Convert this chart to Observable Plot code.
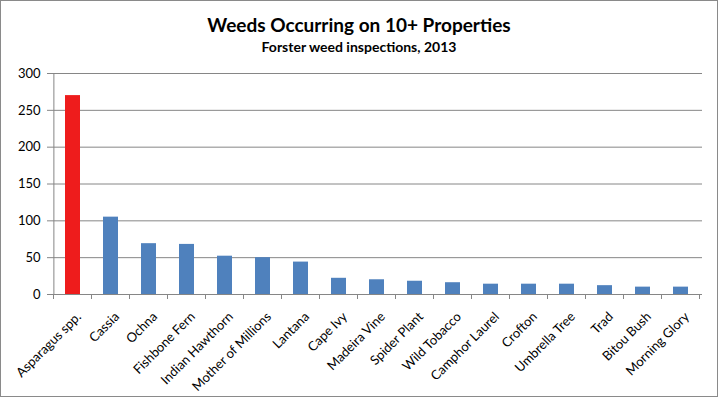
<!DOCTYPE html>
<html>
<head>
<meta charset="utf-8">
<script src="https://cdn.jsdelivr.net/npm/d3@7"></script>
<script src="https://cdn.jsdelivr.net/npm/@observablehq/plot@0.6"></script>
<style>
  html, body { margin: 0; padding: 0; background: #fff; }
  #wrap { width: 718px; height: 397px; box-sizing: border-box; border: 1px solid #8a8a8a; overflow: hidden; font-family: Lato, "Open Sans", sans-serif; }
  #title { height: 62px; text-align: center; color: #000; }
  #title .t { font-weight: bold; font-size: 19px; padding-top: 13px; line-height: 22px; }
  #title .s { font-weight: bold; font-size: 14px; line-height: 18px; margin-top: 2px; }
</style>
</head>
<body>
<div id="wrap">
  <div id="title">
    <div class="t">Weeds Occurring on 10+ Properties</div>
    <div class="s">Forster weed inspections, 2013</div>
  </div>
  <div id="chart"></div>
</div>
<script>
const weeds = ["Asparagus spp.", "Cassia", "Ochna", "Fishbone Fern", "Indian Hawthorn", "Mother of Millions", "Lantana", "Cape Ivy", "Madeira Vine", "Spider Plant", "Wild Tobacco", "Camphor Laurel", "Crofton", "Umbrella Tree", "Trad", "Bitou Bush", "Morning Glory"];
const counts = [270, 105, 69, 68, 52, 50, 44, 22, 20, 18, 16, 14, 14, 14, 12, 10, 10];
const highlighted = ["Asparagus spp."];
const yTicks = [0, 50, 100, 150, 200, 250, 300];

const data = weeds.map((w, i) => ({weed: w, count: counts[i], hi: highlighted.includes(w)}));

const W = 716, H = 333, ML = 51, MR = 15, MT = 10, MB = 102;
const step = (W - ML - MR) / weeds.length;

const chart = Plot.plot({
  width: W, height: H,
  marginLeft: ML, marginRight: MR, marginTop: MT, marginBottom: MB,
  style: {fontFamily: "Lato, 'Open Sans', sans-serif", fontSize: "13px", color: "#000", background: "#fff"},
  x: {domain: weeds, paddingInner: 0.6, paddingOuter: 0.3, label: null},
  y: {domain: [0, 300], label: null},
  marks: [
    Plot.ruleY(yTicks.filter(d => d > 0), {stroke: "#868686", strokeWidth: 1, strokeOpacity: 1}),
    Plot.barY(data, {x: "weed", y: "count", fill: d => d.hi ? "#ee1c1c" : "#4f81bd"}),
    Plot.ruleY([0], {stroke: "#868686", strokeWidth: 1, strokeOpacity: 1}),
    Plot.ruleX([weeds[0]], {x: d => d, dx: -step / 2, y1: 0, y2: 300, stroke: "#868686", strokeOpacity: 1}),
    Plot.axisY({ticks: yTicks, tickSize: 5, tickPadding: 7, stroke: "#868686", tickFormat: d => d, fontSize: 13, color: "#000", strokeOpacity: 1}),
    Plot.axisX({tickSize: 0, tickRotate: -45, tickPadding: 20, dx: 6, fontSize: 13, fill: "#000"})
  ]
});

// category boundary ticks below the x axis, placed through Plot's own scales
const xs = chart.scale("x"), ys = chart.scale("y");
const y0 = ys.apply(0);
const svg = d3.select(chart);
const bounds = weeds.map(w => xs.apply(w) - (xs.step - xs.bandwidth) / 2);
bounds.push(xs.apply(weeds[weeds.length - 1]) + xs.bandwidth + (xs.step - xs.bandwidth) / 2);
svg.append("g").attr("stroke", "#868686")
  .selectAll("line").data(bounds).join("line")
  .attr("x1", d => d).attr("x2", d => d)
  .attr("y1", y0).attr("y2", y0 + 5);

document.getElementById("chart").appendChild(chart);
</script>
</body>
</html>
